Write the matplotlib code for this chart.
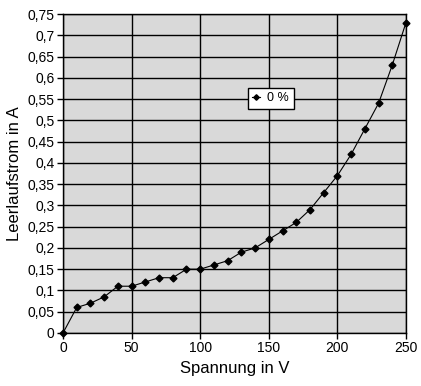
import numpy as np
import matplotlib
matplotlib.use('Agg')
import matplotlib.pyplot as plt

plt.rcParams['font.family'] = ['Liberation Sans', 'DejaVu Sans']

spannung = [0, 10, 20, 30, 40, 50, 60, 70, 80, 90, 100, 110, 120, 130, 140,
            150, 160, 170, 180, 190, 200, 210, 220, 230, 240, 250]
strom = [0, 0.06, 0.07, 0.085, 0.11, 0.11, 0.12, 0.13, 0.13, 0.15, 0.15, 0.16,
         0.17, 0.19, 0.2, 0.22, 0.24, 0.26, 0.29, 0.33, 0.37, 0.42, 0.48, 0.54,
         0.63, 0.73]
serie = '0 %'

x_ticks = np.arange(0, 251, 50)
y_ticks = np.arange(0, 0.751, 0.05)
y_labels = ['0'] + [('%g' % v).replace('.', ',') for v in y_ticks[1:]]

fig = plt.figure(figsize=(4.21, 3.86), dpi=100)
ax = fig.add_axes([63/421, 53/386, 343/421, 319/386])
ax.set_facecolor('#d9d9d9')

ax.plot(spannung, strom, color='black', lw=0.8, marker='D', ms=3.5,
        label=serie, clip_on=False, zorder=3)

ax.set_xlim(0, 250)
ax.set_ylim(0, 0.75)
ax.set_xticks(x_ticks)
ax.set_yticks(y_ticks)
ax.set_yticklabels(y_labels)
ax.grid(True, color='black', lw=1)
ax.tick_params(direction='out', length=4, width=1, labelsize=10, pad=2)
for s in ax.spines.values():
    s.set_linewidth(1)

ax.set_xlabel('Spannung in V', fontsize=12, labelpad=4)
ax.set_ylabel('Leerlaufstrom in A', fontsize=12, labelpad=4)

leg = ax.legend(loc='upper left', bbox_to_anchor=((248-63)/343, (333-88)/319),
                borderaxespad=0, fancybox=False, framealpha=1,
                edgecolor='black', fontsize=9, handlelength=0.6,
                handletextpad=0.6, borderpad=0.35, markerscale=0.8)
leg.get_frame().set_linewidth(1)

fig.savefig('out.png', dpi=100)
